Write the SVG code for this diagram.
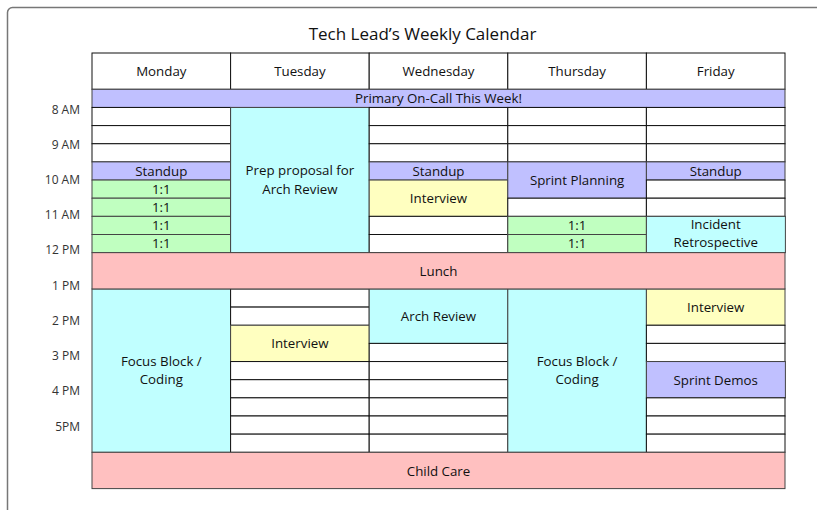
<svg xmlns="http://www.w3.org/2000/svg" width="817" height="510" viewBox="0 0 817 510">
  <style>
    text { font-family: "Open Sans", "Noto Sans", "Liberation Sans", sans-serif; fill: #111; }
    .cell text { font-size: 13.3px; text-anchor: middle; }
    .title { font-size: 17px; text-anchor: middle; fill: #111; }
    .time { font-size: 12px; text-anchor: end; fill: #333; }
    .free rect, .hdr rect { fill: #ffffff; stroke: #111; stroke-width: 1; }
    .purple rect { fill: #c0c0ff; stroke: #444; stroke-width: 1; }
    .green rect { fill: #c0ffc0; stroke: #444; stroke-width: 1; }
    .cyan rect { fill: #c0ffff; stroke: #444; stroke-width: 1; }
    .yellow rect { fill: #ffffc0; stroke: #444; stroke-width: 1; }
    .pink rect { fill: #ffc0c0; stroke: #444; stroke-width: 1; }
  </style>

  <!-- outer frame -->
  <rect x="7.5" y="7.5" width="840" height="530" rx="5" fill="#ffffff" stroke="#777" stroke-width="1.5"/>

  <text class="title" x="422.5" y="40">Tech Lead’s Weekly Calendar</text>

  <!-- hour labels -->
  <g id="hours">
    <text class="time" x="80" y="114.3">8 AM</text>
    <text class="time" x="80" y="149.3">9 AM</text>
    <text class="time" x="80" y="184.3">10 AM</text>
    <text class="time" x="80" y="219">11 AM</text>
    <text class="time" x="80" y="253.5">12 PM</text>
    <text class="time" x="80" y="289.7">1 PM</text>
    <text class="time" x="80" y="325">2 PM</text>
    <text class="time" x="80" y="360">3 PM</text>
    <text class="time" x="80" y="395">4 PM</text>
    <text class="time" x="80" y="431">5PM</text>
  </g>

  <!-- day headers -->
  <g id="hdr-mon" class="cell hdr"><rect x="92" y="53" width="138.6" height="36.3"/><text x="161.3" y="76">Monday</text></g>
  <g id="hdr-tue" class="cell hdr"><rect x="230.6" y="53" width="138.6" height="36.3"/><text x="299.9" y="76">Tuesday</text></g>
  <g id="hdr-wed" class="cell hdr"><rect x="369.2" y="53" width="138.6" height="36.3"/><text x="438.5" y="76">Wednesday</text></g>
  <g id="hdr-thu" class="cell hdr"><rect x="507.8" y="53" width="138.6" height="36.3"/><text x="577.1" y="76">Thursday</text></g>
  <g id="hdr-fri" class="cell hdr"><rect x="646.4" y="53" width="138.6" height="36.3"/><text x="715.7" y="76">Friday</text></g>

  <!-- all-week bar -->
  <g id="oncall" class="cell purple"><rect x="92" y="89.3" width="693" height="18.15"/><text x="438.5" y="102.8">Primary On-Call This Week!</text></g>

  <!-- Monday -->
  <g id="mon-0800" class="cell free"><rect x="92" y="107.45" width="138.6" height="18.15"/></g>
  <g id="mon-0830" class="cell free"><rect x="92" y="125.6" width="138.6" height="18.15"/></g>
  <g id="mon-0900" class="cell free"><rect x="92" y="143.75" width="138.6" height="18.15"/></g>
  <g id="mon-standup" class="cell purple"><rect x="92" y="161.9" width="138.6" height="18.15"/><text x="161.3" y="175.8">Standup</text></g>
  <g id="mon-1on1-a" class="cell green"><rect x="92" y="180.05" width="138.6" height="18.15"/><text x="161.3" y="193.95">1:1</text></g>
  <g id="mon-1on1-b" class="cell green"><rect x="92" y="198.2" width="138.6" height="18.15"/><text x="161.3" y="212.1">1:1</text></g>
  <g id="mon-1on1-c" class="cell green"><rect x="92" y="216.35" width="138.6" height="18.15"/><text x="161.3" y="230.25">1:1</text></g>
  <g id="mon-1on1-d" class="cell green"><rect x="92" y="234.5" width="138.6" height="18.15"/><text x="161.3" y="248.4">1:1</text></g>
  <g id="mon-focus" class="cell cyan"><rect x="92" y="288.95" width="138.6" height="163.35"/><text x="161.3" y="365.6">Focus Block /</text><text x="161.3" y="383.6">Coding</text></g>

  <!-- Tuesday -->
  <g id="tue-prep" class="cell cyan"><rect x="230.6" y="107.45" width="138.6" height="145.2"/><text x="299.9" y="175.3">Prep proposal for</text><text x="299.9" y="193.5">Arch Review</text></g>
  <g id="tue-1300" class="cell free"><rect x="230.6" y="288.95" width="138.6" height="18.15"/></g>
  <g id="tue-1330" class="cell free"><rect x="230.6" y="307.1" width="138.6" height="18.15"/></g>
  <g id="tue-interview" class="cell yellow"><rect x="230.6" y="325.25" width="138.6" height="36.3"/><text x="299.9" y="348.3">Interview</text></g>
  <g id="tue-1500" class="cell free"><rect x="230.6" y="361.55" width="138.6" height="18.15"/></g>
  <g id="tue-1530" class="cell free"><rect x="230.6" y="379.7" width="138.6" height="18.15"/></g>
  <g id="tue-1600" class="cell free"><rect x="230.6" y="397.85" width="138.6" height="18.15"/></g>
  <g id="tue-1630" class="cell free"><rect x="230.6" y="416" width="138.6" height="18.15"/></g>
  <g id="tue-1700" class="cell free"><rect x="230.6" y="434.15" width="138.6" height="18.15"/></g>

  <!-- Wednesday -->
  <g id="wed-0800" class="cell free"><rect x="369.2" y="107.45" width="138.6" height="18.15"/></g>
  <g id="wed-0830" class="cell free"><rect x="369.2" y="125.6" width="138.6" height="18.15"/></g>
  <g id="wed-0900" class="cell free"><rect x="369.2" y="143.75" width="138.6" height="18.15"/></g>
  <g id="wed-standup" class="cell purple"><rect x="369.2" y="161.9" width="138.6" height="18.15"/><text x="438.5" y="175.8">Standup</text></g>
  <g id="wed-interview" class="cell yellow"><rect x="369.2" y="180.05" width="138.6" height="36.3"/><text x="438.5" y="203">Interview</text></g>
  <g id="wed-1100" class="cell free"><rect x="369.2" y="216.35" width="138.6" height="18.15"/></g>
  <g id="wed-1130" class="cell free"><rect x="369.2" y="234.5" width="138.6" height="18.15"/></g>
  <g id="wed-archreview" class="cell cyan"><rect x="369.2" y="288.95" width="138.6" height="54.45"/><text x="438.5" y="320.8">Arch Review</text></g>
  <g id="wed-1430" class="cell free"><rect x="369.2" y="343.4" width="138.6" height="18.15"/></g>
  <g id="wed-1500" class="cell free"><rect x="369.2" y="361.55" width="138.6" height="18.15"/></g>
  <g id="wed-1530" class="cell free"><rect x="369.2" y="379.7" width="138.6" height="18.15"/></g>
  <g id="wed-1600" class="cell free"><rect x="369.2" y="397.85" width="138.6" height="18.15"/></g>
  <g id="wed-1630" class="cell free"><rect x="369.2" y="416" width="138.6" height="18.15"/></g>
  <g id="wed-1700" class="cell free"><rect x="369.2" y="434.15" width="138.6" height="18.15"/></g>

  <!-- Thursday -->
  <g id="thu-0800" class="cell free"><rect x="507.8" y="107.45" width="138.6" height="18.15"/></g>
  <g id="thu-0830" class="cell free"><rect x="507.8" y="125.6" width="138.6" height="18.15"/></g>
  <g id="thu-0900" class="cell free"><rect x="507.8" y="143.75" width="138.6" height="18.15"/></g>
  <g id="thu-sprint-planning" class="cell purple"><rect x="507.8" y="161.9" width="138.6" height="36.3"/><text x="577.1" y="185">Sprint Planning</text></g>
  <g id="thu-1030" class="cell free"><rect x="507.8" y="198.2" width="138.6" height="18.15"/></g>
  <g id="thu-1on1-a" class="cell green"><rect x="507.8" y="216.35" width="138.6" height="18.15"/><text x="577.1" y="230.25">1:1</text></g>
  <g id="thu-1on1-b" class="cell green"><rect x="507.8" y="234.5" width="138.6" height="18.15"/><text x="577.1" y="248.4">1:1</text></g>
  <g id="thu-focus" class="cell cyan"><rect x="507.8" y="288.95" width="138.6" height="163.35"/><text x="577.1" y="365.6">Focus Block /</text><text x="577.1" y="383.6">Coding</text></g>

  <!-- Friday -->
  <g id="fri-0800" class="cell free"><rect x="646.4" y="107.45" width="138.6" height="18.15"/></g>
  <g id="fri-0830" class="cell free"><rect x="646.4" y="125.6" width="138.6" height="18.15"/></g>
  <g id="fri-0900" class="cell free"><rect x="646.4" y="143.75" width="138.6" height="18.15"/></g>
  <g id="fri-standup" class="cell purple"><rect x="646.4" y="161.9" width="138.6" height="18.15"/><text x="715.7" y="175.8">Standup</text></g>
  <g id="fri-1000" class="cell free"><rect x="646.4" y="180.05" width="138.6" height="18.15"/></g>
  <g id="fri-1030" class="cell free"><rect x="646.4" y="198.2" width="138.6" height="18.15"/></g>
  <g id="fri-retro" class="cell cyan"><rect x="646.4" y="216.35" width="139" height="36.3"/><text x="715.7" y="229">Incident</text><text x="715.7" y="247.2">Retrospective</text></g>
  <g id="fri-interview" class="cell yellow"><rect x="646.4" y="288.95" width="138.6" height="36.3"/><text x="715.7" y="311.8">Interview</text></g>
  <g id="fri-1400" class="cell free"><rect x="646.4" y="325.25" width="138.6" height="18.15"/></g>
  <g id="fri-1430" class="cell free"><rect x="646.4" y="343.4" width="138.6" height="18.15"/></g>
  <g id="fri-sprint-demos" class="cell purple"><rect x="646.4" y="361.55" width="139" height="36.3"/><text x="715.7" y="384.5">Sprint Demos</text></g>
  <g id="fri-1600" class="cell free"><rect x="646.4" y="397.85" width="138.6" height="18.15"/></g>
  <g id="fri-1630" class="cell free"><rect x="646.4" y="416" width="138.6" height="18.15"/></g>
  <g id="fri-1700" class="cell free"><rect x="646.4" y="434.15" width="138.6" height="18.15"/></g>

  <!-- whole-week blocks -->
  <g id="lunch" class="cell pink"><rect x="92" y="252.65" width="693" height="36.3"/><text x="438.5" y="275.6">Lunch</text></g>
  <g id="childcare" class="cell pink"><rect x="92" y="452.3" width="693" height="36.3"/><text x="438.5" y="475.5">Child Care</text></g>
</svg>
